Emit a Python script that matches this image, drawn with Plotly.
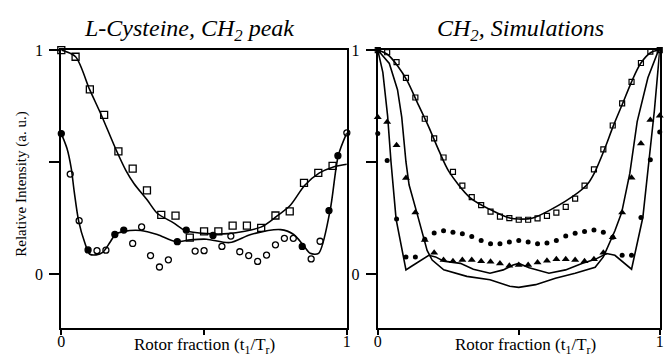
import plotly.graph_objects as go

# ---------------- left panel: L-Cysteine, CH2 peak ----------------
sq_x = [i / 20 for i in range(20)]
sq_y = [1.0, 0.97, 0.824, 0.71, 0.547, 0.47, 0.373, 0.264, 0.26, 0.162,
        0.19, 0.19, 0.216, 0.216, 0.206, 0.261, 0.279, 0.407, 0.451, 0.483]

circ_x = [i / 32 for i in range(33)]
circ_y = [0.627, 0.446, 0.238, 0.107, 0.104, 0.106, 0.176, 0.196, 0.136, 0.21,
          0.082, 0.031, 0.063, 0.144, 0.196, 0.102, 0.104, 0.172, 0.123, 0.169,
          0.099, 0.082, 0.056, 0.084, 0.13, 0.159, 0.159, 0.123, 0.067, 0.146,
          0.283, 0.528, 0.63]
circ_filled = [0, 3, 6, 7, 13, 14, 17, 27, 30, 31]

sfit_x = [0, 0.05, 0.099, 0.14, 0.191, 0.226, 0.255, 0.301, 0.336, 0.393, 0.434,
          0.509, 0.584, 0.699, 0.754, 0.803, 0.852, 0.904, 0.953, 1.0]
sfit_y = [1.0, 0.97, 0.824, 0.71, 0.557, 0.463, 0.403, 0.33, 0.271, 0.228, 0.194,
          0.18, 0.18, 0.209, 0.257, 0.308, 0.395, 0.451, 0.478, 0.49]

cfit_x = [0, 0.02, 0.035, 0.045, 0.061, 0.082, 0.099, 0.122, 0.145, 0.17, 0.189,
          0.22, 0.278, 0.336, 0.402, 0.451, 0.509, 0.59, 0.664, 0.768, 0.814,
          0.849, 0.872, 0.901, 0.941, 0.97, 1.0]
cfit_y = [0.627, 0.56, 0.47, 0.37, 0.235, 0.14, 0.089, 0.085, 0.096, 0.14, 0.176,
          0.19, 0.194, 0.176, 0.144, 0.152, 0.155, 0.14, 0.176, 0.198, 0.176,
          0.126, 0.092, 0.092, 0.281, 0.528, 0.63]

# ---------------- right panel: CH2, simulations ----------------
sim_x = [i / 30 for i in range(31)]
sim_sq = [1.0, 0.99, 0.946, 0.876, 0.788, 0.693, 0.605, 0.52, 0.456, 0.394,
          0.343, 0.307, 0.278, 0.256, 0.249, 0.242, 0.242, 0.248, 0.259, 0.274,
          0.299, 0.336, 0.394, 0.467, 0.556, 0.663, 0.762, 0.858, 0.942, 0.993, 1.0]
sim_dot = [0.627, 0.507, 0.245, 0.076, 0.076, 0.155, 0.183, 0.193, 0.186, 0.179,
           0.167, 0.149, 0.135, 0.135, 0.142, 0.149, 0.142, 0.135, 0.138, 0.149,
           0.169, 0.182, 0.189, 0.196, 0.186, 0.164, 0.083, 0.083, 0.252, 0.51, 0.634]
sim_tri = [0.7, 0.678, 0.575, 0.428, 0.274, 0.152, 0.094, 0.062, 0.057, 0.062,
           0.062, 0.057, 0.054, 0.047, 0.037, 0.04, 0.04, 0.051, 0.059, 0.065,
           0.065, 0.062, 0.057, 0.065, 0.094, 0.164, 0.274, 0.43, 0.583, 0.688, 0.707]

rfit_x = [0, 0.035, 0.07, 0.105, 0.14, 0.181, 0.216, 0.252, 0.328, 0.409, 0.468,
          0.5, 0.55, 0.666, 0.742, 0.768, 0.802, 0.835, 0.868, 0.9, 0.932, 0.97, 1.0]
rfit_y = [1.0, 0.98, 0.93, 0.861, 0.766, 0.656, 0.553, 0.458, 0.34, 0.281, 0.25,
          0.245, 0.25, 0.325, 0.398, 0.45, 0.55, 0.66, 0.76, 0.858, 0.94, 0.99, 1.0]

cura_x = [0, 0.018, 0.035, 0.047, 0.065, 0.1, 0.117, 0.164, 0.181, 0.205, 0.234,
          0.293, 0.339, 0.398, 0.445, 0.48, 0.5, 0.537, 0.607, 0.666, 0.724, 0.771,
          0.812, 0.841, 0.87, 0.9, 0.94, 0.958, 0.981, 1.0]
cura_y = [1.0, 0.9, 0.705, 0.5, 0.245, 0.018, 0.032, 0.069, 0.083, 0.076, 0.057,
          0.047, 0.021, 0.003, 0.018, 0.04, 0.047, 0.028, 0.003, 0.018, 0.047, 0.065,
          0.091, 0.083, 0.054, 0.021, 0.252, 0.45, 0.73, 1.0]

curb_x = [0, 0.041, 0.07, 0.085, 0.1, 0.111, 0.14, 0.175, 0.193, 0.234, 0.316,
          0.398, 0.468, 0.5, 0.56, 0.63, 0.7, 0.771, 0.8, 0.841, 0.865, 0.894,
          0.92, 0.958, 0.993, 1.0]
curb_y = [1.0, 0.94, 0.823, 0.7, 0.5, 0.398, 0.267, 0.105, 0.062, 0.018, -0.011,
          -0.026, -0.055, -0.06, -0.048, -0.019, 0.003, 0.03, 0.076, 0.193, 0.274,
          0.45, 0.68, 0.876, 0.99, 1.0]

W, H = 667, 356
SERIF = "Liberation Serif, Times New Roman, serif"
INK = "black"

fig = go.Figure()

def line(x, y, xa, ya, shape="spline", width=1.6):
    fig.add_trace(go.Scatter(x=x, y=y, mode="lines", xaxis=xa, yaxis=ya,
                             line=dict(color=INK, width=width, shape=shape,
                                       smoothing=0.8 if shape == "spline" else None),
                             hoverinfo="skip", cliponaxis=False))

def marks(x, y, xa, ya, symbol, size, lw=1.2):
    fig.add_trace(go.Scatter(x=x, y=y, mode="markers", xaxis=xa, yaxis=ya,
                             marker=dict(symbol=symbol, size=size, color=INK,
                                         line=dict(color=INK, width=lw)),
                             hoverinfo="skip", cliponaxis=False))

# left panel
line(sfit_x, sfit_y, "x", "y")
line(cfit_x, cfit_y, "x", "y")
marks(sq_x, sq_y, "x", "y", "square-open", 7, lw=1.3)
marks(circ_x, circ_y, "x", "y",
      ["circle" if i in circ_filled else "circle-open" for i in range(len(circ_x))], 6, lw=1.3)

# right panel
line(rfit_x, rfit_y, "x2", "y2")
line(cura_x, cura_y, "x2", "y2", shape="linear")
line(curb_x, curb_y, "x2", "y2", shape="linear")
marks(sim_x, sim_sq, "x2", "y2", "square-open", 5, lw=1.2)
marks(sim_x, sim_dot, "x2", "y2", "circle", 5, lw=0)
marks(sim_x, sim_tri, "x2", "y2", "triangle-up", 7, lw=0)

xdom_l = [58 / W, 347 / W]
xdom_r = [378.3 / W, 663.7 / W]
ydom = [1 - 327 / H, 1 - 43 / H]

def xaxis(dom, anchor):
    return dict(domain=dom, anchor=anchor, range=[0, 1], showgrid=False, zeroline=False,
                showline=True, linecolor=INK, linewidth=2, mirror=True,
                ticks="outside", ticklen=5, tickwidth=1.5, tickcolor=INK,
                tickvals=[0, 0.5, 1], ticktext=["0", "", "1"], ticklabelstandoff=-7,
                tickfont=dict(family=SERIF, size=16, color=INK))

def yaxis(anchor):
    return dict(domain=ydom, anchor=anchor, range=[-0.24, 1], showgrid=False, zeroline=False,
                showline=True, linecolor=INK, linewidth=2, mirror=True,
                ticks="outside", ticklen=10, tickwidth=1.5, tickcolor=INK,
                tickvals=[0, 0.5, 1], ticktext=["0", "", "1"], ticklabelstandoff=3,
                tickfont=dict(family=SERIF, size=16, color=INK))

def ann(text, px, py, size, angle=0):
    return dict(text=text, x=px / W, y=1 - py / H, xref="paper", yref="paper",
                xanchor="center", yanchor="middle", showarrow=False, textangle=angle,
                font=dict(family=SERIF, size=size, color=INK))

fig.update_layout(
    width=W, height=H, margin=dict(l=0, r=0, t=0, b=0),
    paper_bgcolor="white", plot_bgcolor="white", showlegend=False,
    xaxis=xaxis(xdom_l, "y"), yaxis=yaxis("x"),
    xaxis2=xaxis(xdom_r, "y2"), yaxis2=yaxis("x2"),
    annotations=[
        ann("<i>L-Cysteine, CH<sub>2</sub> peak</i>", 187, 22, 24),
        ann("<i>CH<sub>2</sub>, Simulations</i>", 523, 22, 24),
        ann("Rotor fraction (t<sub>1</sub>/T<sub>r</sub>)", 203, 346, 17),
        ann("Rotor fraction (t<sub>1</sub>/T<sub>r</sub>)", 528, 346, 17),
        ann("Relative Intensity (a. u.)", 18, 180, 15, angle=-90),
    ],
)

fig.write_html("out.html")
